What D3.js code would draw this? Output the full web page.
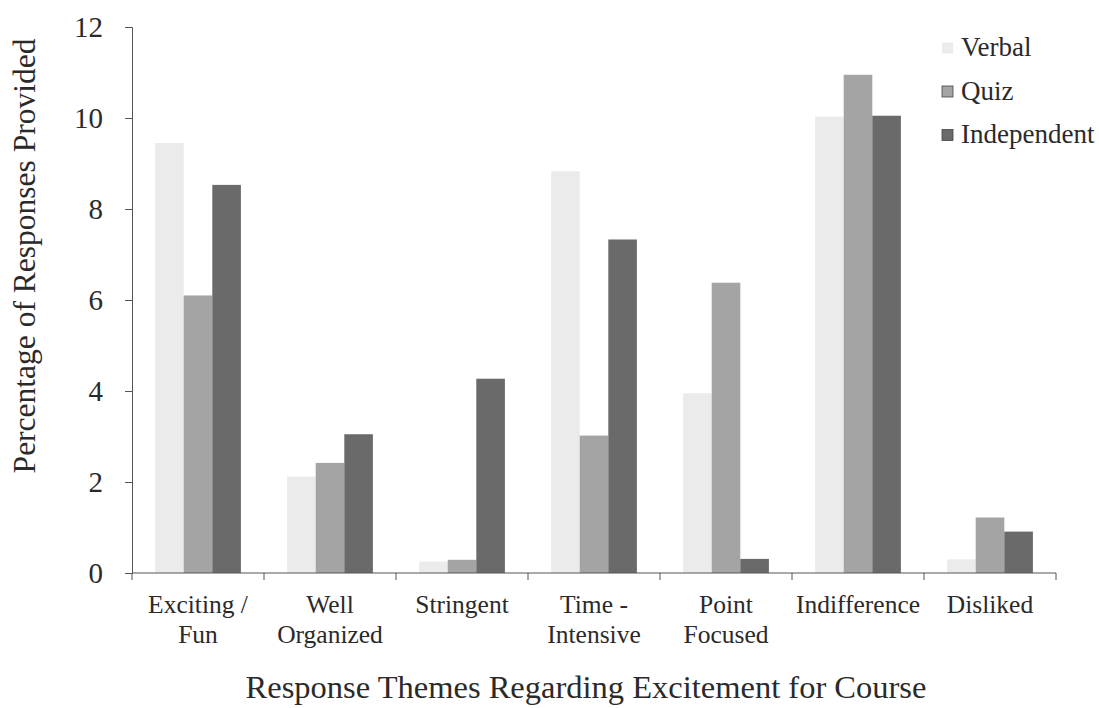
<!DOCTYPE html>
<html>
<head>
<meta charset="utf-8">
<script src="https://cdn.jsdelivr.net/npm/d3@7"></script>
<style>
  html, body { margin: 0; padding: 0; background: #fff; }
  svg { display: block; }
  svg text { font-family: 'Liberation Serif', Tinos, 'Times New Roman', 'DejaVu Serif', serif; fill: #2a2a2a; }
</style>
</head>
<body>
<svg id="chart" width="1099" height="708"></svg>
<script>
const categories = [["Exciting /", "Fun"], ["Well", "Organized"], ["Stringent"], ["Time -", "Intensive"], ["Point", "Focused"], ["Indifference"], ["Disliked"]];
const seriesNames = ["Verbal", "Quiz", "Independent"];
const verbal      = [9.45, 2.12, 0.25, 8.83, 3.95, 10.03, 0.3];
const quiz        = [6.1, 2.42, 0.29, 3.02, 6.38, 10.95, 1.22];
const independent = [8.53, 3.05, 4.27, 7.33, 0.31, 10.05, 0.91];
const yTicks = [0, 2, 4, 6, 8, 10, 12];
const colors = ["#ebebeb", "#a4a4a4", "#6a6a6a"];

const seriesValues = [verbal, quiz, independent];
const catKeys = categories.map((c, i) => "c" + i);
const data = catKeys.map((k, i) => ({ key: k, label: categories[i], values: seriesValues.map((s, j) => ({ name: seriesNames[j], value: s[i], idx: j })) }));

const FONT = "'Liberation Serif', Tinos, 'Times New Roman', 'DejaVu Serif', serif";
const svg = d3.select("#chart");
const mLeft = 132, mRight = 1056, mTop = 27, mBottom = 573;

const x0 = d3.scaleBand().domain(catKeys).range([mLeft, mRight]).paddingInner(0.35).paddingOuter(0.175);
const x1 = d3.scaleBand().domain(seriesNames).range([0, x0.bandwidth()]).padding(0);
const y = d3.scaleLinear().domain([0, 12]).range([mBottom, mTop]);

// bars
const g = svg.append("g");
g.selectAll("g.cat").data(data).join("g")
  .attr("transform", d => `translate(${x0(d.key)},0)`)
  .selectAll("rect").data(d => d.values).join("rect")
  .attr("x", d => x1(d.name))
  .attr("width", x1.bandwidth())
  .attr("y", d => y(d.value))
  .attr("height", d => y(0) - y(d.value))
  .attr("fill", d => colors[d.idx]);

// y axis
const yAxis = d3.axisLeft(y).tickValues(yTicks).tickSize(7).tickPadding(22);
const ya = svg.append("g").attr("transform", `translate(${mLeft},0)`).call(yAxis);
ya.attr("font-family", FONT);
ya.select(".domain").attr("stroke", "#555").attr("stroke-width", 1);
ya.selectAll(".tick line").attr("stroke", "#555");
ya.selectAll(".tick text").attr("font-size", 29).style("font-family", FONT).attr("fill", "#2a2a2a");

// x axis: line with ticks at band boundaries
const step = x0.step();
const boundaries = d3.range(catKeys.length + 1).map(i => mLeft + i * step);
svg.append("line").attr("x1", mLeft).attr("x2", mRight).attr("y1", mBottom).attr("y2", mBottom).attr("stroke", "#555");
svg.selectAll("line.xt").data(boundaries).join("line").attr("class", "xt")
  .attr("x1", d => d).attr("x2", d => d).attr("y1", mBottom).attr("y2", mBottom + 7).attr("stroke", "#555");

// x labels
const xl = svg.append("g");
data.forEach(d => {
  const cx = x0(d.key) + x0.bandwidth() / 2;
  const t = xl.append("text").attr("text-anchor", "middle").attr("font-size", 25.5).style("font-family", FONT);
  d.label.forEach((line, i) => {
    t.append("tspan").attr("x", cx).attr("y", 613 + i * 30).text(line);
  });
});

// axis titles
svg.append("text").attr("text-anchor", "middle").attr("font-size", 32.5).style("font-family", FONT)
  .attr("x", 586).attr("y", 698)
  .text("Response Themes Regarding Excitement for Course");
svg.append("text").attr("text-anchor", "middle").attr("font-size", 31.5).style("font-family", FONT)
  .attr("transform", `translate(35,256) rotate(-90)`)
  .text("Percentage of Responses Provided");

// legend
const lg = svg.append("g");
seriesNames.forEach((n, i) => {
  const yy = 48 + i * 43.5;
  lg.append("rect").attr("x", 942).attr("y", yy - 5.5).attr("width", 11).attr("height", 11)
    .attr("fill", colors[i]).attr("stroke", i === 0 ? "none" : "#444").attr("stroke-width", 0.8);
  lg.append("text").attr("x", 961).attr("y", yy + 8).attr("font-size", 27).style("font-family", FONT).text(n);
});
</script>
</body>
</html>
